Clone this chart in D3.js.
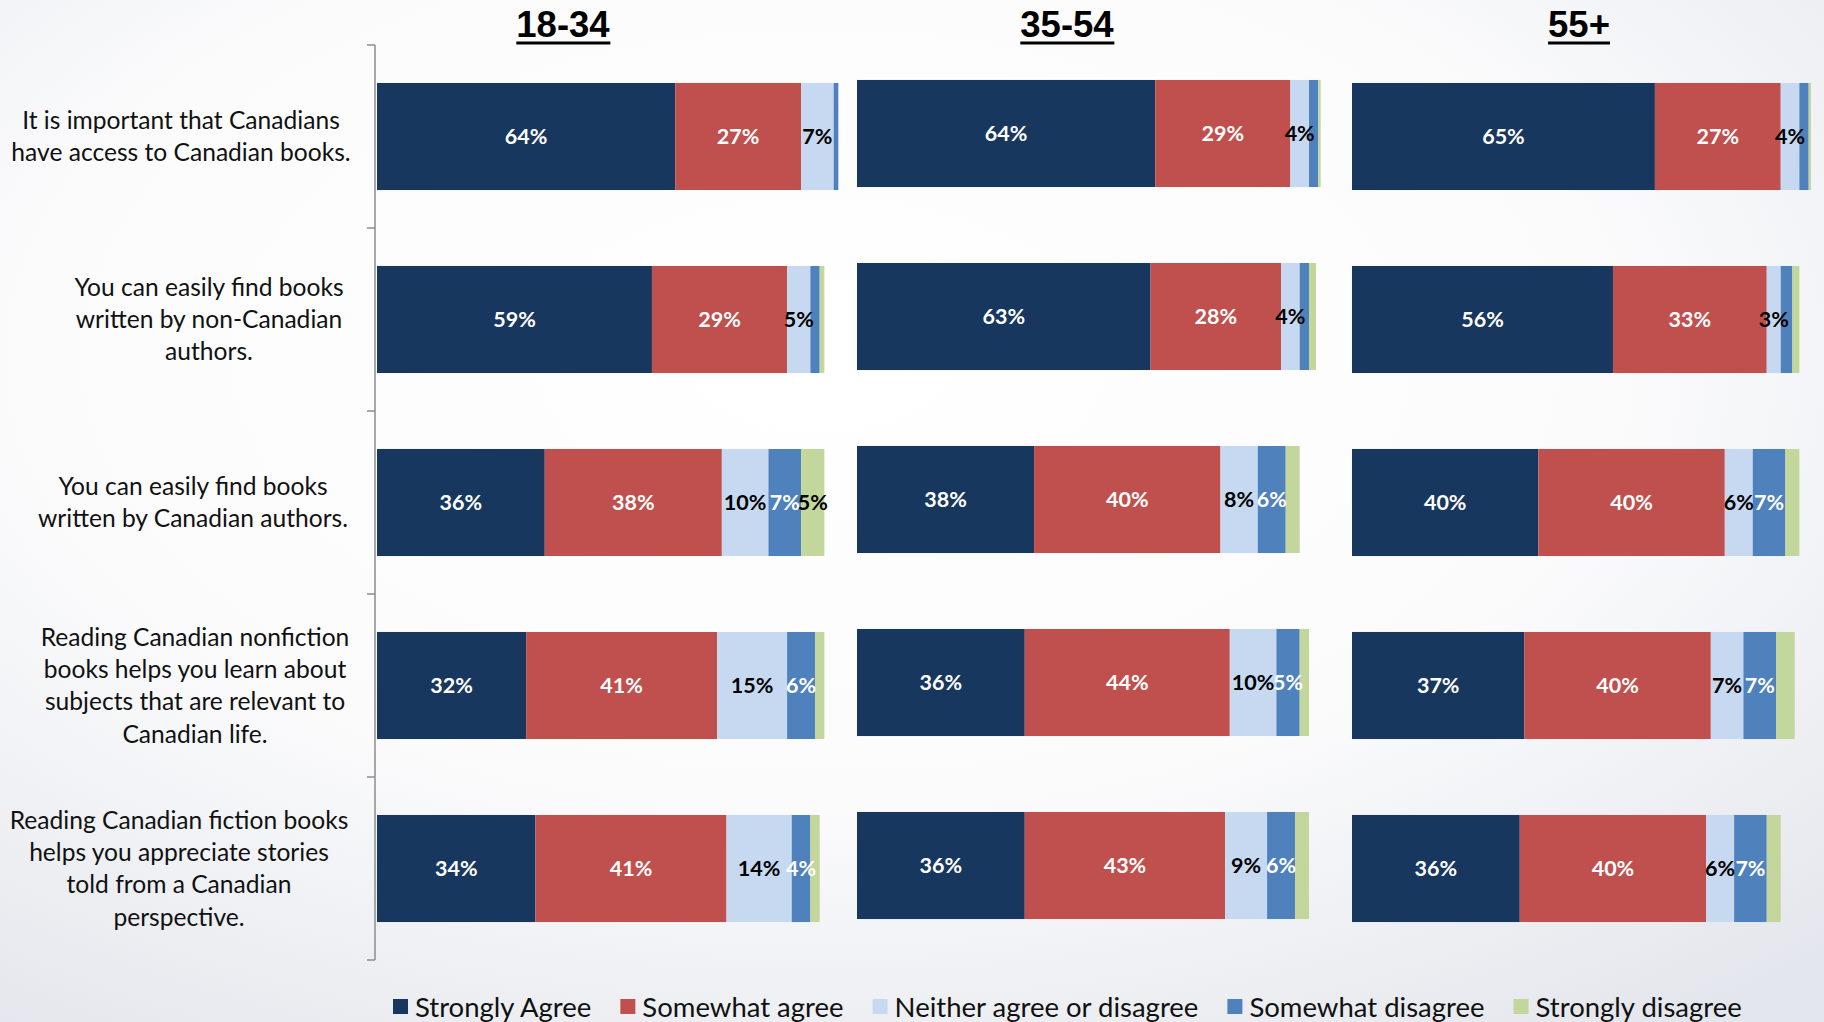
<!DOCTYPE html>
<html>
<head>
<meta charset="utf-8">
<script src="https://cdn.jsdelivr.net/npm/d3@7"></script>
<style>
  html, body { margin: 0; padding: 0; }
  body { width: 1824px; height: 1022px; overflow: hidden; }
  svg { display: block; }
</style>
</head>
<body>
<svg id="chart" width="1824" height="1022"></svg>
<script>
// Survey responses by age group (percent of respondents)
const ageGroups = ["18-34", "35-54", "55+"];

const statements = [
  ["It is important that Canadians", "have access to Canadian books."],
  ["You can easily find books", "written by non-Canadian", "authors."],
  ["You can easily find books", "written by Canadian authors."],
  ["Reading Canadian nonfiction", "books helps you learn about", "subjects that are relevant to", "Canadian life."],
  ["Reading Canadian fiction books", "helps you appreciate stories", "told from a Canadian", "perspective."]
];

const responses = ["Strongly Agree", "Somewhat agree", "Neither agree or disagree", "Somewhat disagree", "Strongly disagree"];

// rows follow the statements, columns follow the responses
const values1834 = [
  [64, 27, 7, 1, 0],
  [59, 29, 5, 2, 1],
  [36, 38, 10, 7, 5],
  [32, 41, 15, 6, 2],
  [34, 41, 14, 4, 2]
];
const values3554 = [
  [64, 29, 4, 2, 0.5],
  [63, 28, 4, 2, 1.5],
  [38, 40, 8, 6, 3],
  [36, 44, 10, 5, 2],
  [36, 43, 9, 6, 3]
];
const values55plus = [
  [65, 27, 4, 2, 0.5],
  [56, 33, 3, 2.5, 1.5],
  [40, 40, 6, 7, 3],
  [37, 40, 7, 7, 4],
  [36, 40, 6, 7, 3]
];

// which segments carry a printed percentage
const shown1834 = [
  [1, 1, 1, 0, 0],
  [1, 1, 1, 0, 0],
  [1, 1, 1, 1, 1],
  [1, 1, 1, 1, 0],
  [1, 1, 1, 1, 0]
];
const shown3554 = [
  [1, 1, 1, 0, 0],
  [1, 1, 1, 0, 0],
  [1, 1, 1, 1, 0],
  [1, 1, 1, 1, 0],
  [1, 1, 1, 1, 0]
];
const shown55plus = [
  [1, 1, 1, 0, 0],
  [1, 1, 1, 0, 0],
  [1, 1, 1, 1, 0],
  [1, 1, 1, 1, 0],
  [1, 1, 1, 1, 0]
];

const panelValues = [values1834, values3554, values55plus];
const panelShown = [shown1834, shown3554, shown55plus];

// ---- appearance ----
const colors = ["#17375E", "#C0504D", "#C6D9F1", "#4F81BD", "#C3D69B"];
const labelInk = ["#ffffff", "#ffffff", "#000000", "#ffffff", "#000000"];

const svg = d3.select("#chart");

// soft slide-style background
const defs = svg.append("defs");
const bg = defs.append("radialGradient")
  .attr("id", "bg").attr("cx", "45%").attr("cy", "35%").attr("r", "80%");
bg.append("stop").attr("offset", "0%").attr("stop-color", "#ffffff");
bg.append("stop").attr("offset", "55%").attr("stop-color", "#fbfbfc");
bg.append("stop").attr("offset", "100%").attr("stop-color", "#e3e6ec");
svg.append("rect").attr("width", 1824).attr("height", 1022).attr("fill", "url(#bg)");

// shared vertical band scale for the statements
const y = d3.scaleBand()
  .domain(d3.range(statements.length))
  .range([45, 960])
  .paddingInner(0.415)
  .paddingOuter(0.2075);

const bandStep = (960 - 45) / statements.length;

// category axis on the left
const axisX = 375;
const axisG = svg.append("g").attr("stroke", "#8c8c8c").attr("stroke-width", 1.5);
axisG.append("line").attr("x1", axisX).attr("x2", axisX).attr("y1", 45).attr("y2", 960);
axisG.selectAll("line.tick")
  .data(d3.range(statements.length + 1))
  .join("line")
  .attr("class", "tick")
  .attr("x1", axisX - 8).attr("x2", axisX)
  .attr("y1", i => 45 + i * bandStep)
  .attr("y2", i => 45 + i * bandStep);

// statement labels, centred on each band
const labelCenters = [181, 209, 193, 195, 179];
const lineGap = 32.3;
const catG = svg.append("g")
  .attr("font-family", "Lato, 'Open Sans', sans-serif")
  .attr("font-size", 24.6)
  .attr("fill", "#111")
  .attr("text-anchor", "middle");
statements.forEach((lines, i) => {
  const cy = 45 + (i + 0.5) * bandStep;
  const first = cy - (lines.length - 1) * lineGap / 2;
  const t = catG.append("text").attr("x", labelCenters[i]);
  lines.forEach((ln, k) => {
    t.append("tspan")
      .attr("x", labelCenters[i])
      .attr("y", first + k * lineGap)
      .attr("dy", "0.35em")
      .text(ln);
  });
});

// one stacked-bar panel per age group
const panelLeft = [377, 857, 1352];
const panelShiftY = [0, -3, 0];
const titleCenters = [563, 1067, 1579];
const x = d3.scaleLinear().domain([0, 100]).range([0, 466]);

ageGroups.forEach((grp, p) => {
  const g = svg.append("g")
    .attr("transform", `translate(${panelLeft[p]},${panelShiftY[p]})`);

  const rows = panelValues[p].map((vals, r) => {
    let acc = 0;
    return vals.map((v, s) => {
      const seg = { row: r, s, v, x0: acc, x1: acc + v, shown: panelShown[p][r][s] === 1 };
      acc += v;
      return seg;
    });
  });
  const segs = rows.flat();

  g.selectAll("rect.seg")
    .data(segs.filter(d => d.v > 0))
    .join("rect")
    .attr("class", "seg")
    .attr("x", d => x(d.x0))
    .attr("width", d => x(d.x1) - x(d.x0))
    .attr("y", d => y(d.row))
    .attr("height", y.bandwidth())
    .attr("fill", d => colors[d.s]);

  g.selectAll("text.val")
    .data(segs.filter(d => d.shown))
    .join("text")
    .attr("class", "val")
    .attr("x", d => (x(d.x0) + x(d.x1)) / 2)
    .attr("y", d => y(d.row) + y.bandwidth() / 2)
    .attr("dy", "0.36em")
    .attr("text-anchor", "middle")
    .attr("font-family", "Lato, 'Open Sans', sans-serif")
    .attr("font-weight", 700)
    .attr("font-size", 21.5)
    .attr("fill", d => labelInk[d.s])
    .text(d => d3.format(".0f")(d.v) + "%");

  // underlined age-group heading
  const title = svg.append("text")
    .attr("x", titleCenters[p])
    .attr("y", 37)
    .attr("text-anchor", "middle")
    .attr("font-family", "'Liberation Sans', Arial, sans-serif")
    .attr("font-weight", 700)
    .attr("font-size", 36.5)
    .attr("fill", "#000")
    .text(grp);
  const bb = title.node().getBBox();
  svg.append("rect")
    .attr("x", bb.x).attr("width", bb.width)
    .attr("y", 41.5).attr("height", 3)
    .attr("fill", "#000");
});

// legend along the bottom
const legend = svg.append("g")
  .attr("font-family", "Lato, 'Open Sans', sans-serif")
  .attr("font-size", 27.5)
  .attr("fill", "#111");
let lx = 393;
responses.forEach((name, i) => {
  legend.append("rect")
    .attr("x", lx).attr("y", 999)
    .attr("width", 15).attr("height", 15)
    .attr("fill", colors[i]);
  const t = legend.append("text")
    .attr("x", lx + 22)
    .attr("y", 1007)
    .attr("dy", "0.35em")
    .text(name);
  lx += 22 + t.node().getComputedTextLength() + 29;
});
</script>
</body>
</html>
